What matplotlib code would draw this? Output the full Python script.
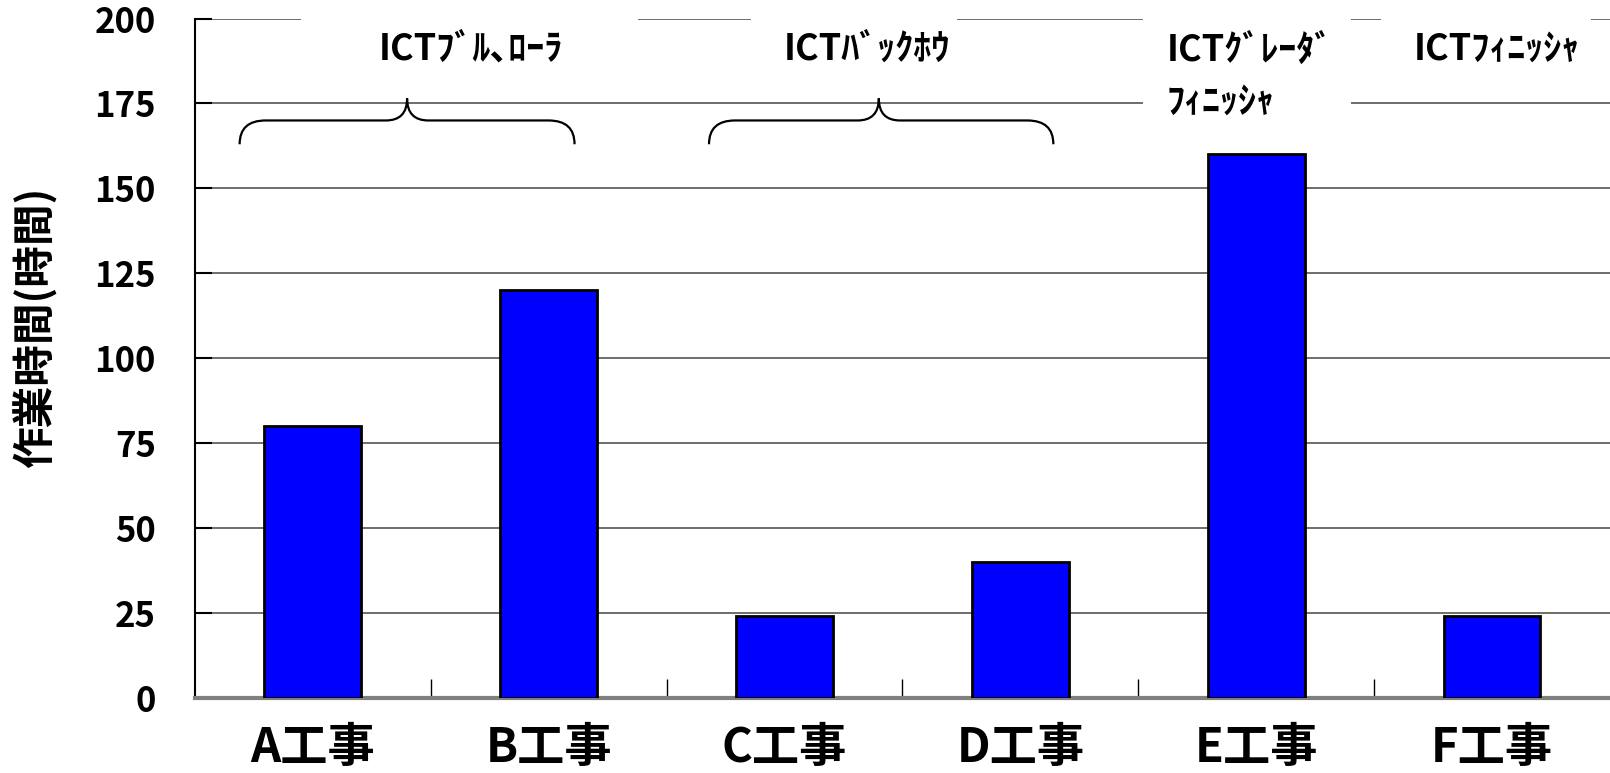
import matplotlib
matplotlib.use("Agg")
import matplotlib.pyplot as plt
from matplotlib.path import Path
from matplotlib.patches import PathPatch, Rectangle

plt.rcParams['font.family'] = ['Noto Sans CJK JP', 'DejaVu Sans']
plt.rcParams['font.weight'] = 'bold'

# work hours per construction site
sites = ['A工事', 'B工事', 'C工事', 'D工事', 'E工事', 'F工事']
hours = [80, 120, 24, 40, 160, 24]
yticks = [0, 25, 50, 75, 100, 125, 150, 175, 200]

# machine group labels: (text, x, y, box x-range, box y-range, alignment)
groups = [
    ('ICTﾌﾞﾙ､ﾛｰﾗ', 0.67, 191, (-0.05, 1.38), (183, 203), 'center'),
    ('ICTﾊﾞｯｸﾎｳ', 2.35, 191, (1.86, 2.73), (183, 203), 'center'),
    ('ICTｸﾞﾚｰﾀﾞ\nﾌｨﾆｯｼｬ', 3.62, 183, (3.52, 4.40), (168, 203), 'left'),
    ('ICTﾌｨﾆｯｼｬ', 5.02, 191, (4.53, 5.42), (183, 203), 'center'),
]
# braces grouping pairs of sites: (left, tip, right)
braces = [(-0.31, 0.40, 1.11), (1.68, 2.40, 3.14)]


def draw_brace(ax, x0, xm, x1, y_end=163, y_arm=170, y_tip=176.5, r=0.11, rt=0.09):
    verts = [(x0, y_end), (x0, y_arm), (x0 + r, y_arm),
             (xm - rt, y_arm), (xm, y_arm), (xm, y_tip),
             (xm, y_arm), (xm + rt, y_arm),
             (x1 - r, y_arm), (x1, y_arm), (x1, y_end)]
    codes = [Path.MOVETO, Path.CURVE3, Path.CURVE3,
             Path.LINETO, Path.CURVE3, Path.CURVE3,
             Path.CURVE3, Path.CURVE3,
             Path.LINETO, Path.CURVE3, Path.CURVE3]
    ax.add_patch(PathPatch(Path(verts, codes), fill=False, lw=1.6,
                           edgecolor='black', zorder=4))


fig = plt.figure(figsize=(16.1, 7.73), dpi=100)
ax = fig.add_axes([0.121, 0.097, 0.879, 0.879])

x = range(len(sites))
ax.bar(x, hours, width=0.41, color='#0000FF', edgecolor='black',
       linewidth=2, zorder=3)

ax.set_xlim(-0.5, len(sites) - 0.5)
ax.set_ylim(0, 200)
ax.set_yticks(yticks)
ax.yaxis.grid(True, color='#555555', lw=1.2)
ax.set_axisbelow(True)

ax.set_xticks(list(x))
ax.set_xticklabels(sites, fontsize=34, fontweight='bold')
ax.set_xticks([i + 0.5 for i in range(len(sites) - 1)], minor=True)
ax.tick_params(axis='x', which='major', length=0, pad=19)
ax.tick_params(axis='x', which='minor', direction='in', length=14,
               width=1, color='black')
ax.tick_params(axis='y', direction='in', length=12, width=1.5,
               color='black', labelsize=25, pad=28)
for lab in ax.get_yticklabels():
    lab.set_fontweight('bold')

ax.set_ylabel('作業時間(時間)', fontsize=30, fontweight='bold')
ax.yaxis.set_label_coords(-0.097, 0.545)

for side in ('top', 'right'):
    ax.spines[side].set_visible(False)
ax.spines['left'].set_color('black')
ax.spines['left'].set_linewidth(1.5)
ax.spines['bottom'].set_color('#808080')
ax.spines['bottom'].set_linewidth(3)

for text, tx, ty, (bx0, bx1), (by0, by1), ha in groups:
    ax.add_patch(Rectangle((bx0, by0), bx1 - bx0, by1 - by0,
                           facecolor='white', edgecolor='none', zorder=2))
    ax.text(tx, ty, text, ha=ha, va='center', fontsize=26,
            fontweight='bold', linespacing=1.5, zorder=5)

for x0, xm, x1 in braces:
    draw_brace(ax, x0, xm, x1)

fig.savefig('out.png', dpi=100)
